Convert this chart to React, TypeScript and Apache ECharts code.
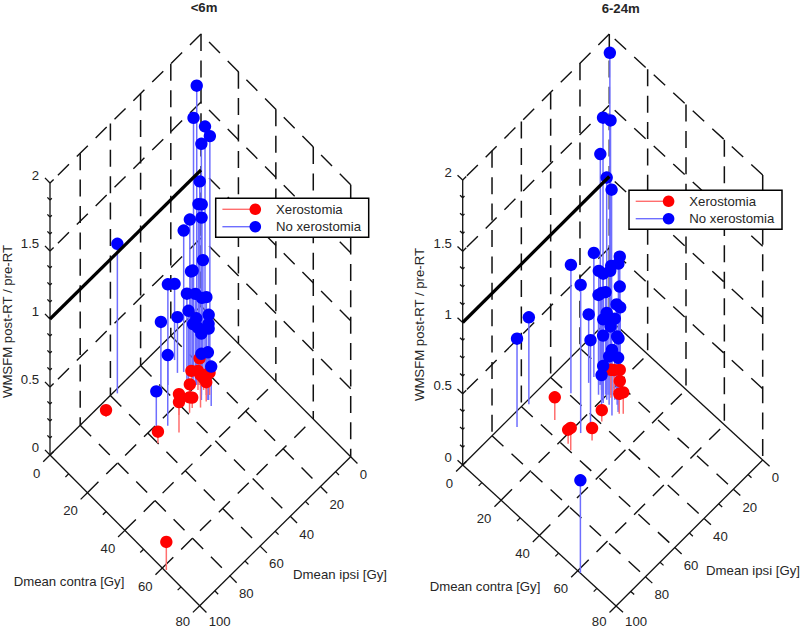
import React, { useEffect, useRef } from "react";
import * as echarts from "echarts";

// [Dmean contra (Gy), Dmean ipsi (Gy), WMSFM post-RT / pre-RT]
type P3 = [number, number, number];

const earlyXero: P3[] = [
  [4.6, 68.6, 0.05], [25.4, 60, 0.085], [61.6, 99.3, 0.206], [28.1, 49.4, 0.224],
  [23.4, 43.6, 0.154], [25.6, 39.3, 0.113], [25, 36.8, 0.076], [22.2, 34.9, 0.113],
  [19.4, 30.4, 0.125], [21.7, 28.9, 0.14], [27.1, 33.9, 0.24], [25.4, 27.6, 0.147],
  [23.2, 27, 0.086], [27, 30, 0.142], [20.8, 26.7, 0.196], [26.1, 26.7, 0.164],
];
const earlyNoXero: P3[] = [
  [12, 17.7, 1.98], [16.5, 25.4, 1.89], [18.2, 19.9, 1.79], [19.5, 18.3, 1.72],
  [18.6, 22.8, 1.7], [19.5, 25, 1.46], [20.5, 27.1, 1.33], [20, 24.3, 1.29],
  [21.3, 26, 1.23], [14.7, 25.6, 1.12], [13.1, 27.7, 1.04], [1.3, 57, 1.1],
  [20.3, 23.9, 0.88], [15.8, 26.2, 0.76], [17.1, 26.7, 0.79], [12.4, 37.3, 0.74],
  [7.5, 26.8, 0.56], [17.4, 30.9, 0.67], [19.7, 28.1, 0.67], [21.4, 25.9, 0.64],
  [25.3, 27.8, 0.72], [17.3, 29.7, 0.53], [11.7, 30.1, 0.41], [11.9, 41.3, 0.5],
  [25.9, 27, 0.59], [19.9, 27.8, 0.49], [17.7, 27.2, 0.41], [27.2, 28.7, 0.56],
  [20.3, 27.2, 0.42], [24.5, 25.3, 0.45], [23.9, 29.4, 0.45], [23.3, 50.9, 0.52],
  [25.3, 31.1, 0.34], [27, 28.9, 0.35], [29.5, 29.8, 0.29], [20.9, 55.5, 0.27],
];
const lateXero: P3[] = [
  [12.7, 53.8, 0.159], [25.3, 59.4, 0.157], [22.8, 57.9, 0.098], [28.4, 48.9, 0.087],
  [25.9, 39, 0.08], [28.5, 30.5, 0.14], [29.6, 29.2, 0.15], [24.9, 25.4, 0.133],
  [23.5, 23.6, 0.175], [21.9, 27.5, 0.196], [21.1, 24.5, 0.154],
];
const lateNoXero: P3[] = [
  [4.5, 5.5, 1.98], [17.6, 27.3, 1.91], [19.6, 24.8, 1.89], [15.5, 26.4, 1.62],
  [18.6, 26.1, 1.49], [21.3, 26.3, 1.44], [11.6, 25.7, 0.87], [9.8, 39, 0.9],
  [23.5, 23.6, 0.97], [23.1, 24, 0.92], [19.8, 24.6, 0.87], [15.1, 26.9, 0.8],
  [19, 29, 0.85], [20.9, 26.7, 0.87], [23.3, 50, 1.04], [23.5, 23.6, 0.76],
  [17.7, 30.5, 0.7], [17.2, 27.8, 0.68], [19.6, 28.2, 0.72], [24, 26.4, 0.67],
  [25, 25.3, 0.65], [11.8, 29.5, 0.48], [21.3, 29.6, 0.61], [1.4, 56.7, 0.61],
  [4.4, 68.7, 0.62], [19, 29, 0.53], [20.3, 27.4, 0.53], [23.5, 27, 0.57],
  [21, 26.6, 0.48], [25.9, 46.7, 0.65], [20.3, 30.8, 0.45], [25.5, 28, 0.48],
  [27.2, 29.3, 0.5], [27, 33.5, 0.46], [23.3, 30.6, 0.34], [27.7, 30.2, 0.38],
  [21.2, 31.9, 0.26], [22.1, 34.2, 0.23], [61.3, 99.9, 0.65],
];

const contraTicks = [0, 20, 40, 60, 80];
const contraMinor = [10, 30, 50, 70];
const ipsiTicks = [0, 20, 40, 60, 80, 100];
const ipsiMinor = [10, 30, 50, 70, 90];
const zTicks = [0, 0.5, 1, 1.5, 2];
const zMinor = [0.125, 0.25, 0.375, 0.625, 0.75, 0.875, 1.125, 1.25, 1.375, 1.625, 1.75, 1.875];
const legendNames = ["Xerostomia", "No xerostomia"];
const zLabel = "WMSFM post-RT / pre-RT";
const contraLabel = "Dmean contra [Gy]";
const ipsiLabel = "Dmean ipsi [Gy]";

const panels = [
  {
    title: "<6m", titleXY: [204, 7], xero: earlyXero, noXero: earlyNoXero,
    back: [201, 306], left: [50, 455], right: [350.7, 456.7], zScale: 136,
    legend: [215.7, 198.3], zLabelXY: [7, 321.5],
    contraLabelXY: [69, 581.7], ipsiLabelXY: [340, 574.3], xRange: [0, 400],
  },
  {
    title: "6-24m", titleXY: [620.7, 8], xero: lateXero, noXero: lateNoXero,
    back: [609.3, 319], left: [462.7, 465], right: [762.7, 460], zScale: 142.5,
    legend: [629, 190.3], zLabelXY: [419, 324.5],
    contraLabelXY: [485, 586.7], ipsiLabelXY: [753, 570.7], xRange: [400, 800],
  },
];

const RED = "#ff0000";
const BLUE = "#0000ff";
const INK = "#111111";
const TEXT = "#262626";
const FONT = "'Liberation Sans', Arial, sans-serif";
const lineStyles: any[] = [
  { stroke: INK, lineWidth: 1.3 },
  { stroke: INK, lineWidth: 1.4, lineDash: [15.5, 11] },
  { stroke: INK, lineWidth: 1.5, lineDash: [17, 9.4] },
  { stroke: "#000000", lineWidth: 3.2 },
  { stroke: "#ff6e6e", lineWidth: 1.5 },
  { stroke: "#6e6eff", lineWidth: 1.5 },
];

function projector(p: any) {
  return (c: number, i: number, z: number): [number, number] => {
    const a = c / 80;
    const b = i / 100;
    return [
      p.back[0] + a * (p.right[0] - p.back[0]) + b * (p.left[0] - p.back[0]),
      p.back[1] + a * (p.right[1] - p.back[1]) + b * (p.left[1] - p.back[1]) - z * p.zScale,
    ];
  };
}

function renderSeg(_: any, api: any) {
  const a = api.coord([api.value(0), api.value(1)]);
  const b = api.coord([api.value(2), api.value(3)]);
  return {
    type: "line",
    shape: { x1: a[0], y1: a[1], x2: b[0], y2: b[1] },
    style: { ...lineStyles[api.value(4)], fill: null },
  };
}

function segSeries(idx: number, data: number[][], z: number) {
  return {
    type: "custom", xAxisIndex: idx, yAxisIndex: idx, coordinateSystem: "cartesian2d",
    renderItem: renderSeg, data, z, silent: true, clip: false,
    encode: { x: [0, 2], y: [1, 3] },
  };
}

function buildPanel(p: any, idx: number) {
  const P = projector(p);
  const seg = (u: [number, number], v: [number, number], k: number) => [u[0], u[1], v[0], v[1], k];
  const grid: number[][] = [];
  const frame: number[][] = [];

  // back walls: horizontal dashed lines
  zTicks.slice(1).forEach((z) => {
    if (z !== 1) grid.push(seg(P(0, 0, z), P(0, 100, z), 1));
    grid.push(seg(P(80, 0, z), P(0, 0, z), 1));
  });
  // back walls: vertical dashed lines
  ipsiTicks.slice(0, 5).forEach((i) => grid.push(seg(P(0, i, 2), P(0, i, 0), 2)));
  contraTicks.slice(1).forEach((c) => grid.push(seg(P(c, 0, 2), P(c, 0, 0), 2)));
  // floor grid
  contraTicks.slice(1, 4).forEach((c) => grid.push(seg(P(c, 100, 0), P(c, 0, 0), 1)));
  ipsiTicks.slice(1, 5).forEach((i) => grid.push(seg(P(0, i, 0), P(80, i, 0), 1)));

  // floor outline and z axis
  frame.push(seg(P(0, 100, 0), P(80, 100, 0), 0));
  frame.push(seg(P(80, 0, 0), P(80, 100, 0), 0));
  frame.push(seg(P(0, 100, 0), P(0, 0, 0), 0));
  frame.push(seg(P(80, 0, 0), P(0, 0, 0), 0));
  frame.push(seg(P(0, 100, 0), P(0, 100, 2), 0));
  // ticks
  contraTicks.forEach((c) => frame.push(seg(P(c, 100, 0), P(c, 104.5, 0), 0)));
  contraMinor.forEach((c) => frame.push(seg(P(c, 100, 0), P(c, 102.2, 0), 0)));
  ipsiTicks.forEach((i) => frame.push(seg(P(80, i, 0), P(83.6, i, 0), 0)));
  ipsiMinor.forEach((i) => frame.push(seg(P(80, i, 0), P(81.8, i, 0), 0)));
  zTicks.forEach((z) => {
    frame.push(seg(P(0, 100, z), P(-2.7, 100, z), 0));
    frame.push(seg(P(0, 100, z), P(0, 97.6, z), 0));
  });
  zMinor.forEach((z) => {
    frame.push(seg(P(0, 100, z), P(-1.4, 100, z), 0));
    frame.push(seg(P(0, 100, z), P(0, 98.8, z), 0));
  });

  const thick = [seg(P(0, 100, 1), P(0, 0, 1), 3)];
  const stems = (pts: P3[], k: number) => pts.map(([c, i, z]) => seg(P(c, i, z), P(c, i, 0), k));
  const dots = (pts: P3[]) => pts.map(([c, i, z]) => P(c, i, z));
  const scatter = (name: string, pts: P3[], color: string, z: number) => ({
    name, type: "scatter", xAxisIndex: idx, yAxisIndex: idx, data: dots(pts),
    symbol: "circle", symbolSize: 12.4, z, silent: true, clip: false,
    itemStyle: { color, opacity: 1 },
  });

  return [
    segSeries(idx, grid, 1),
    segSeries(idx, frame, 2),
    segSeries(idx, stems(p.noXero, 5), 3),
    segSeries(idx, stems(p.xero, 4), 4),
    scatter(legendNames[0], p.xero, RED, 5),
    scatter(legendNames[1], p.noXero, BLUE, 6),
    segSeries(idx, thick, 7),
  ];
}

function txt(text: string, x: number, y: number, align = "center", extra: any = {}) {
  return {
    type: "text", x, y, z: 50, silent: true, ...extra,
    style: {
      text, textAlign: align, textVerticalAlign: "middle", fill: TEXT,
      font: `${extra.bold ? "bold " : ""}13.2px ${FONT}`,
    },
  };
}

function buildGraphics(p: any) {
  const P = projector(p);
  const out: any[] = [];
  out.push(txt(p.title, p.titleXY[0], p.titleXY[1], "center", { bold: true }));
  out.push({ ...txt(zLabel, 0, 0), x: p.zLabelXY[0], y: p.zLabelXY[1], rotation: Math.PI / 2 });
  out.push(txt(contraLabel, p.contraLabelXY[0], p.contraLabelXY[1]));
  out.push(txt(ipsiLabel, p.ipsiLabelXY[0], p.ipsiLabelXY[1]));
  contraTicks.forEach((c) => {
    const q = P(c, 100, 0);
    out.push(txt(String(c), q[0] - 9.6, Math.min(q[1] + 18.2, 621.8), "right"));
  });
  ipsiTicks.forEach((i) => {
    const q = P(80, i, 0);
    out.push(txt(String(i), q[0] + 9, Math.min(q[1] + 17.8, 621.8), "left"));
  });
  zTicks.forEach((z) => {
    const q = P(0, 100, z);
    out.push(txt(String(z), q[0] - 10.8, q[1] - 8, "right"));
  });
  const [lx, ly] = p.legend;
  out.push({
    type: "rect", z: 40, silent: true,
    shape: { x: lx, y: ly, width: 153, height: 39 },
    style: { fill: "#ffffff", stroke: "#000000", lineWidth: 1.5 },
  });
  [[RED, "#ff6e6e"], [BLUE, "#6e6eff"]].forEach(([c, l], k) => {
    const yy = ly + 11 + k * 17.4;
    out.push({
      type: "line", z: 41, silent: true,
      shape: { x1: lx + 6.7, y1: yy, x2: lx + 34.5, y2: yy },
      style: { stroke: l, lineWidth: 1.4 },
    });
    out.push({
      type: "circle", z: 42, silent: true,
      shape: { cx: lx + 39.6, cy: yy, r: 5.8 },
      style: { fill: c },
    });
    out.push(txt(legendNames[k], lx + 60.3, yy, "left"));
  });
  return out;
}

export default function App() {
  const ref = useRef<HTMLDivElement>(null);
  useEffect(() => {
    const chart = echarts.init(ref.current!, undefined, { renderer: "svg" });
    const halfAxis = (r: number[], idx: number) => ({
      type: "value", gridIndex: idx, min: r[0], max: r[1], show: false,
    });
    chart.setOption({
      animation: false,
      backgroundColor: "#ffffff",
      grid: panels.map((p) => ({
        left: p.xRange[0], width: 400, top: 0, height: 629, containLabel: false,
      })),
      xAxis: panels.map((p, i) => halfAxis(p.xRange, i)),
      yAxis: panels.map((_, i) => ({
        type: "value", gridIndex: i, min: 0, max: 629, inverse: true, show: false,
      })),
      series: panels.flatMap((p, i) => buildPanel(p, i)),
      graphic: { elements: panels.flatMap((p) => buildGraphics(p)) },
    });
    return () => chart.dispose();
  }, []);
  return (
    <div
      ref={ref}
      style={{ position: "absolute", left: 0, top: 0, width: 800, height: 629 }}
    />
  );
}
